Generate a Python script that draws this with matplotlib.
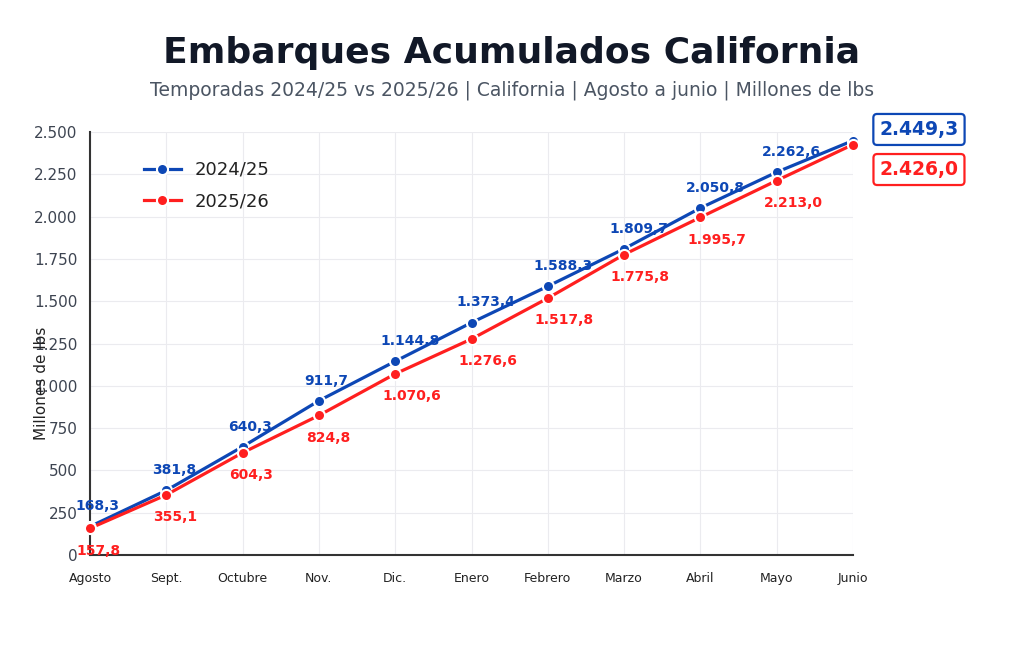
import matplotlib
matplotlib.use('Agg')
import matplotlib.pyplot as plt

# monthly cumulative shipments, million lbs
months = ['Agosto', 'Sept.', 'Octubre', 'Nov.', 'Dic.', 'Enero', 'Febrero',
          'Marzo', 'Abril', 'Mayo', 'Junio']
season_2425 = [168.3, 381.8, 640.3, 911.7, 1144.8, 1373.4, 1588.3, 1809.7,
               2050.8, 2262.6, 2449.3]
season_2526 = [157.8, 355.1, 604.3, 824.8, 1070.6, 1276.6, 1517.8, 1775.8,
               1995.7, 2213.0, 2426.0]
y_ticks = [0, 250, 500, 750, 1000, 1250, 1500, 1750, 2000, 2250, 2500]

BLUE = '#0d47b5'
RED = '#ff1f1f'


# spanish style number: 1.144,8
def fmt(v, dec=1):
    s = f'{v:,.{dec}f}'
    return s.replace(',', 'X').replace('.', ',').replace('X', '.')


fig = plt.figure(figsize=(10.24, 6.49), dpi=100)
ax = fig.add_axes([90/1024, 1-555/649, (853-90)/1024, (555-132)/649])

x = list(range(len(months)))

ax.plot(x, season_2425, color=BLUE, lw=2.3, marker='o', ms=8,
        mec='white', mew=1.5, label='2024/25', zorder=4, clip_on=False)
ax.plot(x, season_2526, color=RED, lw=2.3, marker='o', ms=8,
        mec='white', mew=1.5, label='2025/26', zorder=5, clip_on=False)

# point labels (last point gets a box instead)
for i in range(len(months) - 1):
    ax.annotate(fmt(season_2425[i]), (x[i], season_2425[i]), xytext=(-10.5, 14.5),
                textcoords='offset points', ha='left', va='center',
                fontsize=10, fontweight='bold', color=BLUE, zorder=3)
    ax.annotate(fmt(season_2526[i]), (x[i], season_2526[i]), xytext=(-9.5, -16),
                textcoords='offset points', ha='left', va='center',
                fontsize=10, fontweight='bold', color=RED, zorder=3)

box_style = 'round,pad=0.32,rounding_size=0.2'
ax.annotate(fmt(season_2425[-1]), (x[-1], season_2425[-1]), xytext=(47.5, 8),
            textcoords='offset points', ha='center', va='center',
            fontsize=13.5, fontweight='bold', color=BLUE, annotation_clip=False,
            bbox=dict(boxstyle=box_style, fc='white', ec=BLUE, lw=1.6))
ax.annotate(fmt(season_2526[-1]), (x[-1], season_2526[-1]), xytext=(47.5, -18),
            textcoords='offset points', ha='center', va='center',
            fontsize=13.5, fontweight='bold', color=RED, annotation_clip=False,
            bbox=dict(boxstyle=box_style, fc='white', ec=RED, lw=1.6))

ax.set_xlim(0, len(months) - 1)
ax.set_ylim(0, 2500)
ax.set_xticks(x)
ax.set_xticklabels(months, fontsize=9, color='#222222')
ax.set_yticks(y_ticks)
ax.set_yticklabels([fmt(v, 0) for v in y_ticks], fontsize=11, color='#3d4451')
ax.tick_params(axis='both', length=0)
ax.tick_params(axis='y', pad=9)
ax.tick_params(axis='x', pad=12)

ax.grid(True, color='#ebebef', lw=0.8)
ax.set_axisbelow(True)
for s in ['top', 'right']:
    ax.spines[s].set_visible(False)
for s in ['left', 'bottom']:
    ax.spines[s].set_color('#333333')
    ax.spines[s].set_linewidth(1.5)

leg = ax.legend(loc='upper left', bbox_to_anchor=(0.05, 0.97), frameon=False,
                fontsize=13, handlelength=2.0, labelspacing=0.75)
for t in leg.get_texts():
    t.set_color('#222222')

fig.text(42/1024, 1-383/649, 'Millones de lbs', rotation=90, ha='center',
         va='center', fontsize=11, color='#222222')

fig.text(0.5, 1-53/649, 'Embarques Acumulados California', ha='center',
         va='center', fontsize=26, fontweight='bold', color='#111827')
fig.text(0.5, 1-90/649,
         'Temporadas 2024/25 vs 2025/26 | California | Agosto a junio | Millones de lbs',
         ha='center', va='center', fontsize=13.5, color='#4b5563')

fig.savefig('out.png', dpi=100, facecolor='white')
